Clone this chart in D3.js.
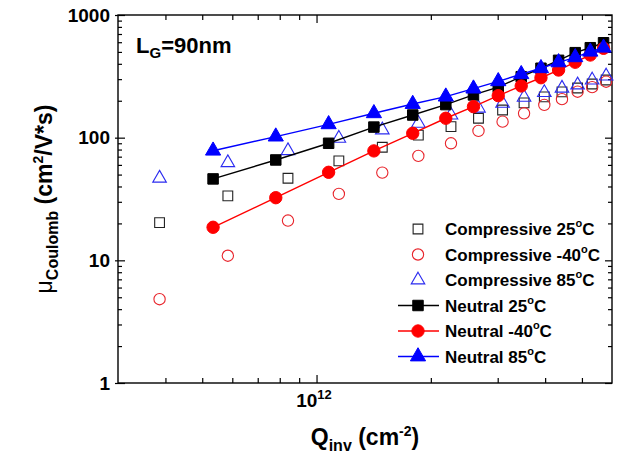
<!DOCTYPE html>
<meta charset="utf-8">
<head>
<style>
  body { margin: 0; background: #fff; }
  svg { font-family: Arial, 'Liberation Sans', sans-serif; font-weight: bold; }
  .frame { fill: none; stroke: #000; stroke-width: 1.4px; }
  .axis path { display: none; }
  .axis line { stroke: #000; stroke-width: 1.2px; }
  .axis text { font-family: Arial, 'Liberation Sans', sans-serif; font-weight: bold; font-size: 19px; fill: #000; }
  .series-line { fill: none; stroke-width: 1.4px; }
</style>
</head>
<body>
<svg width="632" height="456"></svg>
<script src="https://d3js.org/d3.v7.min.js"></script>
<script>
// inversion charge (cm^-2)
var qNeutral = [5.34e11, 7.81e11, 1.076e12, 1.416e12, 1.792e12, 2.19e12, 2.59e12,
                3.01e12, 3.46e12, 3.90e12, 4.34e12, 4.80e12, 5.26e12, 5.70e12];
var qCompressive = [3.86e11, 5.84e11, 8.41e11, 1.145e12, 1.49e12, 1.854e12, 2.26e12, 2.67e12,
                    3.09e12, 3.52e12, 3.98e12, 4.43e12, 4.87e12, 5.32e12, 5.79e12];

// coulomb mobility (cm2/V*s)
var neutral25  = [46.1, 65.8, 90, 122, 153, 186, 223, 258, 314, 368, 427, 493, 541, 594];
var neutralM40 = [18.6, 32.4, 52.2, 78, 108.6, 144, 179, 220, 264, 308, 356, 412, 472, 535];
var neutral85  = [78.3, 102, 128.5, 158, 188, 216, 251, 288, 329, 368, 411, 452, 502, 541];
var comp25  = [20.3, 33.5, 46.7, 64.6, 83.5, 105, 123, 144, 168, 192, 215, 236, 254, 274, 295];
var compM40 = [4.82, 10.9, 21.1, 34.8, 51.9, 71, 90, 113.5, 135, 158, 185, 206, 237, 258, 286];
var comp85  = [46.7, 62.5, 78.3, 98.9, 115.6, 131, 153, 174, 190.6, 213, 233, 253, 269, 295, 318];

var legendNames = ["Compressive 25", "Compressive -40", "Compressive 85",
                   "Neutral 25", "Neutral -40", "Neutral 85"];

var yMajor = [1, 10, 100, 1000];

const svg = d3.select('svg');
const margin = {top: 15, right: 20, bottom: 73, left: 118};
const W = +svg.attr('width'), H = +svg.attr('height');
const x0 = margin.left, x1 = W - margin.right, y0 = H - margin.bottom, y1 = margin.top;

const x = d3.scaleLog().domain([3e11, 6e12]).range([x0, x1]);
const y = d3.scaleLog().domain([1, 1000]).range([y0, y1]);

// minor ticks 2..9 of each decade
var yMinor = [];
[1, 10, 100].forEach(d => { for (var k = 2; k <= 9; k++) yMinor.push(d * k); });
var xMinor = [4e11, 5e11, 6e11, 7e11, 8e11, 9e11, 2e12, 3e12, 4e12, 5e12];

// ---- axes (ticks on all four sides, pointing inwards) ----
svg.append('g').attr('class', 'axis')
  .attr('transform', `translate(${x0},0)`)
  .call(d3.axisLeft(y).tickValues(yMajor).tickSizeInner(-7).tickSizeOuter(0).tickPadding(8)
        .tickFormat(d3.format('d')));
svg.append('g').attr('class', 'axis')
  .attr('transform', `translate(${x0},0)`)
  .call(d3.axisLeft(y).tickValues(yMajor).tickSize(3).tickFormat(''));
svg.append('g').attr('class', 'axis')
  .attr('transform', `translate(${x0},0)`)
  .call(d3.axisLeft(y).tickValues(yMinor).tickSize(-4).tickFormat(''));
svg.append('g').attr('class', 'axis')
  .attr('transform', `translate(${x1},0)`)
  .call(d3.axisRight(y).tickValues(yMajor).tickSize(-7).tickFormat(''));
svg.append('g').attr('class', 'axis')
  .attr('transform', `translate(${x1},0)`)
  .call(d3.axisRight(y).tickValues(yMinor).tickSize(-4).tickFormat(''));

var xb = svg.append('g').attr('class', 'axis')
  .attr('transform', `translate(0,${y0})`)
  .call(d3.axisBottom(x).tickValues([1e12]).tickSizeInner(-8).tickSizeOuter(0).tickPadding(5)
        .tickFormat(() => ''));
svg.append('g').attr('class', 'axis')
  .attr('transform', `translate(0,${y0})`)
  .call(d3.axisBottom(x).tickValues(xMinor).tickSize(-5).tickFormat(''));
svg.append('g').attr('class', 'axis')
  .attr('transform', `translate(0,${y1})`)
  .call(d3.axisTop(x).tickValues([1e12]).tickSize(-8).tickFormat(''));
svg.append('g').attr('class', 'axis')
  .attr('transform', `translate(0,${y1})`)
  .call(d3.axisTop(x).tickValues(xMinor).tickSize(-5).tickFormat(''));

// 10^12 label
var xt = xb.select('.tick text').attr('dy', '1.0em').attr('x', -3);
xt.append('tspan').text('10');
xt.append('tspan').attr('font-size', 13).attr('dy', -8).text('12');

svg.append('rect').attr('class', 'frame')
  .attr('x', x0).attr('y', y1).attr('width', x1 - x0).attr('height', y0 - y1);

// ---- axis titles ----
var xTitle = svg.append('text')
  .attr('x', (x0 + x1) / 2).attr('y', 445).attr('text-anchor', 'middle')
  .attr('font-size', 23);
xTitle.append('tspan').text('Q');
xTitle.append('tspan').attr('font-size', 16).attr('dy', 6).text('inv');
xTitle.append('tspan').attr('dy', -6).text(' (cm');
xTitle.append('tspan').attr('font-size', 14).attr('dy', -9).text('-2');
xTitle.append('tspan').attr('dy', 9).text(')');

var yTitle = svg.append('text')
  .attr('transform', `translate(52,${(y0 + y1) / 2}) rotate(-90)`)
  .attr('text-anchor', 'middle').attr('font-size', 23);
yTitle.append('tspan').attr('font-weight', 'normal').text('\u03bc');
yTitle.append('tspan').attr('font-size', 16).attr('dy', 6).text('Coulomb');
yTitle.append('tspan').attr('dy', -6).text(' (cm');
yTitle.append('tspan').attr('font-size', 14).attr('dy', -9).text('2');
yTitle.append('tspan').attr('dy', 9).text('/V*s)');

var lg = svg.append('text').attr('x', 136).attr('y', 53).attr('font-size', 22);
lg.append('tspan').text('L');
lg.append('tspan').attr('font-size', 15).attr('dy', 5).text('G');
lg.append('tspan').attr('dy', -5).text('=90nm');

// ---- series ----
const sym = {
  square: d3.symbol().type(d3.symbolSquare),
  circle: d3.symbol().type(d3.symbolCircle),
  triangle: d3.symbol().type(d3.symbolTriangle)
};

var series = [
  {q: qCompressive, v: comp25,  color: '#222', shape: 'square',   size: 95,  open: true},
  {q: qCompressive, v: compM40, color: '#e8232a', shape: 'circle', size: 100, open: true},
  {q: qCompressive, v: comp85,  color: '#2b2bf0', shape: 'triangle', size: 80, open: true},
  {q: qNeutral, v: neutral25,  color: '#000', shape: 'square',   size: 110, open: false},
  {q: qNeutral, v: neutralM40, color: '#ff0000', shape: 'circle', size: 120, open: false},
  {q: qNeutral, v: neutral85,  color: '#0000ff', shape: 'triangle', size: 100, open: false}
];

const line = d3.line().x(d => x(d[0])).y(d => y(d[1]));

function marker(sel, s) {
  sel.attr('d', sym[s.shape].size(s.size)())
    .attr('fill', s.open ? 'none' : s.color)
    .attr('stroke', s.color)
    .attr('stroke-width', s.open ? 1.1 : 1);
}

series.forEach(function (s) {
  var pts = s.q.map((q, i) => [q, s.v[i]]);
  var g = svg.append('g');
  if (!s.open) {
    g.append('path').attr('class', 'series-line').attr('stroke', s.color).attr('d', line(pts));
  }
  g.selectAll('path.pt').data(pts).enter().append('path').attr('class', 'pt')
    .attr('transform', d => `translate(${x(d[0])},${y(d[1])})`)
    .call(marker, s);
});

// ---- legend ----
var leg = svg.append('g').attr('transform', 'translate(398,229)');
series.forEach(function (s, i) {
  var row = leg.append('g').attr('transform', `translate(0,${i * 25.5})`);
  if (!s.open) {
    row.append('line').attr('x1', 0).attr('x2', 41).attr('y1', 0).attr('y2', 0)
      .attr('stroke', s.color).attr('stroke-width', 1.4);
  }
  row.append('path').attr('transform', 'translate(20,0)').call(marker, s);
  var t = row.append('text').attr('x', 47).attr('y', 6).attr('font-size', 17);
  t.append('tspan').text(legendNames[i]);
  t.append('tspan').attr('font-size', 11).attr('dy', -8).text('o');
  t.append('tspan').attr('dy', 8).text('C');
});
</script>
</body>
